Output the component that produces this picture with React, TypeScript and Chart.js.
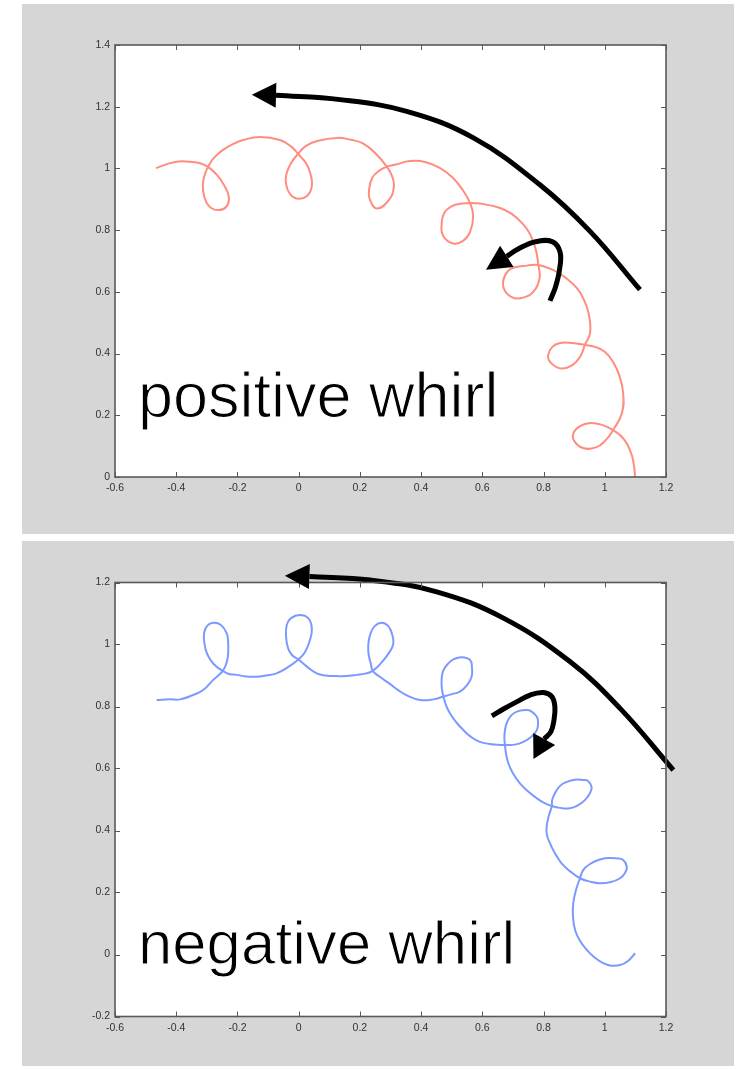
import React, { useEffect, useRef } from "react";
import { Chart, registerables } from "chart.js";

Chart.register(...registerables);

// ---------- axes ----------
const X_TICKS = [-0.6, -0.4, -0.2, 0, 0.2, 0.4, 0.6, 0.8, 1, 1.2];
const POSITIVE_Y_TICKS = [0, 0.2, 0.4, 0.6, 0.8, 1, 1.2, 1.4];
const NEGATIVE_Y_TICKS = [-0.2, 0, 0.2, 0.4, 0.6, 0.8, 1, 1.2];

// ---------- positive whirl trace ----------
const positiveX = [
  -0.466, -0.404, -0.355, -0.322, -0.296, -0.267, -0.244, -0.228, -0.237, -0.264,
  -0.293, -0.309, -0.313, -0.306, -0.296, -0.277, -0.247, -0.215, -0.182, -0.126,
  -0.061, -0.022, -0.002, 0.024, 0.037, 0.043, 0.027, -0.002, -0.028, -0.041,
  -0.04, -0.025, -0.002, 0.024, 0.06, 0.125, 0.174, 0.21, 0.253, 0.288,
  0.305, 0.311, 0.295, 0.256, 0.233, 0.23, 0.24, 0.262, 0.288, 0.318,
  0.364, 0.413, 0.462, 0.501, 0.534, 0.56, 0.57, 0.56, 0.537, 0.504,
  0.472, 0.467, 0.475, 0.501, 0.534, 0.56, 0.592, 0.658, 0.697, 0.73,
  0.756, 0.775, 0.783, 0.787, 0.769, 0.736, 0.703, 0.674, 0.668, 0.684,
  0.707, 0.746, 0.783, 0.831, 0.873, 0.909, 0.932, 0.947, 0.952, 0.935,
  0.919, 0.89, 0.854, 0.821, 0.815, 0.828, 0.854, 0.893, 0.935, 0.971,
  1.001, 1.027, 1.047, 1.06, 1.056, 1.027, 1.001, 0.971, 0.929, 0.9,
  0.898, 0.919, 0.952, 0.991, 1.027, 1.053, 1.073, 1.089, 1.096, 1.099,
];
const positiveY = [
  1.001, 1.021, 1.022, 1.017, 1.005, 0.979, 0.946, 0.907, 0.875, 0.865,
  0.878, 0.911, 0.949, 0.982, 1.005, 1.034, 1.06, 1.079, 1.092, 1.102,
  1.092, 1.069, 1.047, 1.017, 0.988, 0.943, 0.911, 0.902, 0.917, 0.949,
  0.982, 1.017, 1.047, 1.073, 1.089, 1.099, 1.092, 1.081, 1.047, 1.006,
  0.975, 0.94, 0.898, 0.87, 0.898, 0.93, 0.969, 0.992, 1.006, 1.013,
  1.024, 1.021, 1.001, 0.972, 0.933, 0.888, 0.846, 0.794, 0.765, 0.757,
  0.781, 0.817, 0.855, 0.878, 0.886, 0.888, 0.886, 0.872, 0.852, 0.823,
  0.787, 0.736, 0.687, 0.645, 0.603, 0.582, 0.58, 0.603, 0.635, 0.668,
  0.68, 0.685, 0.687, 0.671, 0.645, 0.612, 0.574, 0.531, 0.467, 0.428,
  0.389, 0.36, 0.352, 0.373, 0.395, 0.421, 0.434, 0.434, 0.428, 0.421,
  0.405, 0.373, 0.331, 0.272, 0.207, 0.152, 0.117, 0.096, 0.094, 0.117,
  0.143, 0.165, 0.175, 0.169, 0.152, 0.133, 0.107, 0.068, 0.032, 0.0,
];

// ---------- negative whirl trace ----------
const negativeX = [
  -0.464, -0.42, -0.388, -0.345, -0.312, -0.28, -0.248, -0.234, -0.23, -0.231,
  -0.235, -0.254, -0.279, -0.299, -0.309, -0.308, -0.3, -0.286, -0.268, -0.248,
  -0.228, -0.202, -0.172, -0.137, -0.107, -0.072, -0.035, -0.001, 0.021, 0.037,
  0.043, 0.031, 0.004, -0.025, -0.039, -0.041, -0.035, -0.022, -0.001, 0.024,
  0.059, 0.089, 0.124, 0.155, 0.19, 0.217, 0.242, 0.269, 0.295, 0.309,
  0.305, 0.292, 0.271, 0.249, 0.235, 0.228, 0.228, 0.236, 0.242, 0.266,
  0.298, 0.325, 0.357, 0.396, 0.44, 0.473, 0.501, 0.527, 0.55, 0.565,
  0.566, 0.56, 0.533, 0.507, 0.489, 0.472, 0.467, 0.468, 0.473, 0.481,
  0.494, 0.514, 0.538, 0.563, 0.592, 0.625, 0.658, 0.674, 0.707, 0.734,
  0.759, 0.778, 0.782, 0.778, 0.759, 0.745, 0.717, 0.696, 0.681, 0.674,
  0.672, 0.674, 0.677, 0.685, 0.7, 0.723, 0.749, 0.778, 0.802, 0.827,
  0.854, 0.886, 0.913, 0.935, 0.952, 0.957, 0.945, 0.93, 0.903, 0.876,
  0.854, 0.837, 0.828, 0.827, 0.818, 0.81, 0.811, 0.821, 0.837, 0.859,
  0.886, 0.919, 0.952, 0.984, 1.02, 1.05, 1.066, 1.072, 1.06, 1.039,
  1.007, 0.979, 0.952, 0.93, 0.919, 0.906, 0.897, 0.896, 0.903, 0.919,
  0.941, 0.965, 0.995, 1.02, 1.05, 1.076, 1.099,
];
const negativeY = [
  0.821, 0.823, 0.823, 0.837, 0.853, 0.885, 0.915, 0.947, 0.982, 1.015,
  1.036, 1.063, 1.07, 1.06, 1.036, 1.005, 0.972, 0.947, 0.928, 0.915,
  0.905, 0.902, 0.897, 0.896, 0.9, 0.907, 0.927, 0.952, 0.976, 1.015,
  1.053, 1.085, 1.095, 1.085, 1.063, 1.024, 0.989, 0.966, 0.952, 0.931,
  0.907, 0.9, 0.898, 0.898, 0.902, 0.906, 0.915, 0.94, 0.973, 1.002,
  1.034, 1.06, 1.07, 1.06, 1.036, 1.005, 0.972, 0.937, 0.915, 0.895,
  0.873, 0.853, 0.834, 0.821, 0.823, 0.832, 0.84, 0.848, 0.869, 0.896,
  0.927, 0.95, 0.959, 0.953, 0.939, 0.915, 0.885, 0.856, 0.832, 0.805,
  0.778, 0.75, 0.724, 0.702, 0.686, 0.679, 0.676, 0.676, 0.677, 0.686,
  0.702, 0.724, 0.75, 0.767, 0.785, 0.789, 0.785, 0.773, 0.75, 0.724,
  0.698, 0.676, 0.65, 0.617, 0.585, 0.552, 0.527, 0.504, 0.489, 0.479,
  0.473, 0.472, 0.482, 0.498, 0.521, 0.541, 0.56, 0.563, 0.564, 0.557,
  0.544, 0.52, 0.498, 0.479, 0.45, 0.412, 0.385, 0.359, 0.327, 0.294,
  0.269, 0.246, 0.235, 0.23, 0.234, 0.246, 0.263, 0.283, 0.305, 0.31,
  0.311, 0.305, 0.292, 0.273, 0.246, 0.208, 0.165, 0.124, 0.079, 0.044,
  0.015, -0.008, -0.028, -0.036, -0.034, -0.021, 0.004,
];

// ---------- annotation arrows (data units) ----------
const posBigArrowX = [1.115, 0.952, 0.788, 0.571, 0.353, 0.135, -0.074];
const posBigArrowY = [0.607, 0.796, 0.947, 1.099, 1.185, 1.223, 1.237];
const posBigArrowTip = [-0.153, 1.239];
const posSmallArrowX = [0.821, 0.839, 0.852, 0.854, 0.828, 0.772, 0.717, 0.68];
const posSmallArrowY = [0.571, 0.616, 0.671, 0.729, 0.763, 0.762, 0.739, 0.715];
const posSmallArrowTip = [0.612, 0.672];

const negBigArrowX = [1.224, 1.05, 0.886, 0.669, 0.451, 0.233, 0.035];
const negBigArrowY = [0.595, 0.794, 0.945, 1.085, 1.17, 1.208, 1.219];
const negBigArrowTip = [-0.045, 1.222];
const negSmallArrowX = [0.631, 0.669, 0.712, 0.756, 0.799, 0.827, 0.837, 0.834, 0.824, 0.802];
const negSmallArrowY = [0.77, 0.792, 0.815, 0.837, 0.845, 0.832, 0.799, 0.756, 0.719, 0.695];
const negSmallArrowTip = [0.767, 0.631];

const POS_LABEL = { text: "positive whirl", x: -0.525, y: 0.195, size: 63 };
const NEG_LABEL = { text: "negative whirl", x: -0.525, y: -0.031, size: 61.7 };

// ---------- styles ----------
const PANEL_BG = "#d6d6d6";
const FRAME_COLOR = "#595959";
const TICK_LABEL_COLOR = "#333333";
const TICK_FONT = { family: "'Liberation Sans', Arial, sans-serif", size: 10.5 };
const RED = "rgba(255,120,104,0.85)";
const BLUE = "rgba(100,135,255,0.85)";

function pairs(xs: number[], ys: number[]) {
  return xs.map((x, i) => ({ x, y: ys[i] }));
}

function fmt(v: number) {
  const r = Math.round(v * 10) / 10;
  return String(r === 0 ? 0 : r);
}

const decorPlugin = {
  id: "whirlDecor",
  beforeDraw(chart: any) {
    const { ctx, chartArea: a } = chart;
    ctx.save();
    ctx.fillStyle = "#ffffff";
    ctx.fillRect(a.left, a.top, a.right - a.left, a.bottom - a.top);
    ctx.restore();
  },
  afterDatasetsDraw(chart: any, _args: any, opts: any) {
    const { ctx, chartArea: a, scales } = chart;
    const xs = scales.x;
    const ys = scales.y;
    ctx.save();
    // inward tick marks on all four sides
    ctx.strokeStyle = FRAME_COLOR;
    ctx.lineWidth = 1;
    ctx.beginPath();
    const T = 5;
    xs.ticks.forEach((t: any) => {
      const px = Math.round(xs.getPixelForValue(t.value)) + 0.5;
      ctx.moveTo(px, a.bottom);
      ctx.lineTo(px, a.bottom - T);
      ctx.moveTo(px, a.top);
      ctx.lineTo(px, a.top + T);
    });
    ys.ticks.forEach((t: any) => {
      const py = Math.round(ys.getPixelForValue(t.value)) + 0.5;
      ctx.moveTo(a.left, py);
      ctx.lineTo(a.left + T, py);
      ctx.moveTo(a.right, py);
      ctx.lineTo(a.right - T, py);
    });
    ctx.stroke();
    // box
    ctx.lineWidth = 1.6;
    ctx.strokeRect(a.left, a.top, a.right - a.left, a.bottom - a.top);

    // arrow heads
    ctx.fillStyle = "#000";
    (opts.heads || []).forEach((h: any) => {
      const meta = chart.getDatasetMeta(h.dataset);
      const last = meta.data[meta.data.length - 1];
      const bx = last.x;
      const by = last.y;
      const tx = xs.getPixelForValue(h.tip[0]);
      const ty = ys.getPixelForValue(h.tip[1]);
      let dx = tx - bx;
      let dy = ty - by;
      const len = Math.hypot(dx, dy) || 1;
      dx /= len;
      dy /= len;
      const w = h.width / 2;
      ctx.beginPath();
      ctx.moveTo(tx, ty);
      ctx.lineTo(bx - dy * w, by + dx * w);
      ctx.lineTo(bx + dy * w, by - dx * w);
      ctx.closePath();
      ctx.fill();
    });

    // label (thin white outline gives a lighter weight)
    if (opts.label) {
      const lx = xs.getPixelForValue(opts.label.x);
      const ly = ys.getPixelForValue(opts.label.y);
      ctx.font = opts.label.size + "px 'Liberation Sans', Arial, sans-serif";
      ctx.textAlign = "left";
      ctx.textBaseline = "alphabetic";
      ctx.fillStyle = "#000";
      ctx.fillText(opts.label.text, lx, ly);
      ctx.strokeStyle = "#ffffff";
      ctx.lineWidth = 1.1;
      ctx.lineJoin = "round";
      ctx.strokeText(opts.label.text, lx, ly);
    }
    ctx.restore();
  },
};

function makeConfig(p: any) {
  return {
    type: "scatter",
    data: {
      datasets: [
        {
          data: pairs(p.arrowBigX, p.arrowBigY),
          showLine: true,
          borderColor: "#000",
          borderWidth: 5,
          pointRadius: 0,
          tension: 0.4,
          clip: false,
          order: 0,
        },
        {
          data: pairs(p.arrowSmallX, p.arrowSmallY),
          showLine: true,
          borderColor: "#000",
          borderWidth: 5,
          pointRadius: 0,
          tension: 0.4,
          clip: false,
          order: 0,
        },
        {
          data: pairs(p.xs, p.ys),
          showLine: true,
          borderColor: p.color,
          borderWidth: 2,
          pointRadius: 0,
          tension: 0.45,
          order: 1,
        },
      ],
    },
    options: {
      animation: false,
      responsive: false,
      events: [],
      layout: {
        autoPadding: false,
        padding: { left: 0, top: p.padTop, right: 68, bottom: p.padBottom },
      },
      plugins: {
        legend: { display: false },
        tooltip: { enabled: false },
        whirlDecor: {
          heads: [
            { dataset: 0, tip: p.bigTip, width: 25 },
            { dataset: 1, tip: p.smallTip, width: 25 },
          ],
          label: p.label,
        },
      },
      scales: {
        x: {
          type: "linear",
          min: -0.6,
          max: 1.2,
          afterBuildTicks: (s: any) => {
            s.ticks = X_TICKS.map((v) => ({ value: v }));
          },
          afterFit: (s: any) => {
            s.height = 20;
            s.paddingLeft = 0;
            s.paddingRight = 0;
          },
          grid: { display: false, drawTicks: false },
          border: { display: false },
          ticks: {
            padding: 5,
            color: TICK_LABEL_COLOR,
            font: TICK_FONT,
            maxRotation: 0,
            minRotation: 0,
            autoSkip: false,
            callback: (v: any) => fmt(Number(v)),
          },
        },
        y: {
          type: "linear",
          min: p.yMin,
          max: p.yMax,
          afterBuildTicks: (s: any) => {
            s.ticks = p.yTicks.map((v: number) => ({ value: v }));
          },
          afterFit: (s: any) => {
            s.width = 93;
            s.paddingTop = 0;
            s.paddingBottom = 0;
          },
          grid: { display: false, drawTicks: false },
          border: { display: false },
          ticks: {
            padding: 5,
            color: TICK_LABEL_COLOR,
            font: TICK_FONT,
            autoSkip: false,
            callback: (v: any) => fmt(Number(v)),
          },
        },
      },
    },
    plugins: [decorPlugin],
  };
}

function WhirlPanel(props: any) {
  const ref = useRef<HTMLCanvasElement | null>(null);
  useEffect(() => {
    if (!ref.current) return;
    const chart = new Chart(ref.current, makeConfig(props.cfg) as any);
    return () => chart.destroy();
  }, []);
  return (
    <div
      style={{
        position: "absolute",
        left: props.left,
        top: props.top,
        width: props.width,
        height: props.height,
        background: PANEL_BG,
      }}
    >
      <canvas
        ref={ref}
        width={props.width}
        height={props.height}
        style={{ display: "block", width: props.width, height: props.height }}
      />
    </div>
  );
}

export default function App() {
  const topCfg = {
    xs: positiveX,
    ys: positiveY,
    color: RED,
    yMin: 0,
    yMax: 1.4,
    yTicks: POSITIVE_Y_TICKS,
    arrowBigX: posBigArrowX,
    arrowBigY: posBigArrowY,
    bigTip: posBigArrowTip,
    arrowSmallX: posSmallArrowX,
    arrowSmallY: posSmallArrowY,
    smallTip: posSmallArrowTip,
    label: POS_LABEL,
    padTop: 41,
    padBottom: 37,
  };
  const bottomCfg = {
    xs: negativeX,
    ys: negativeY,
    color: BLUE,
    yMin: -0.2,
    yMax: 1.2,
    yTicks: NEGATIVE_Y_TICKS,
    arrowBigX: negBigArrowX,
    arrowBigY: negBigArrowY,
    bigTip: negBigArrowTip,
    arrowSmallX: negSmallArrowX,
    arrowSmallY: negSmallArrowY,
    smallTip: negSmallArrowTip,
    label: NEG_LABEL,
    padTop: 41.5,
    padBottom: 29.5,
  };
  return (
    <div
      style={{
        position: "absolute",
        left: 0,
        top: 0,
        width: 744,
        height: 1070,
        background: "#ffffff",
      }}
    >
      <WhirlPanel left={22} top={4} width={712} height={530} cfg={topCfg} />
      <WhirlPanel left={22} top={541} width={712} height={525} cfg={bottomCfg} />
    </div>
  );
}
